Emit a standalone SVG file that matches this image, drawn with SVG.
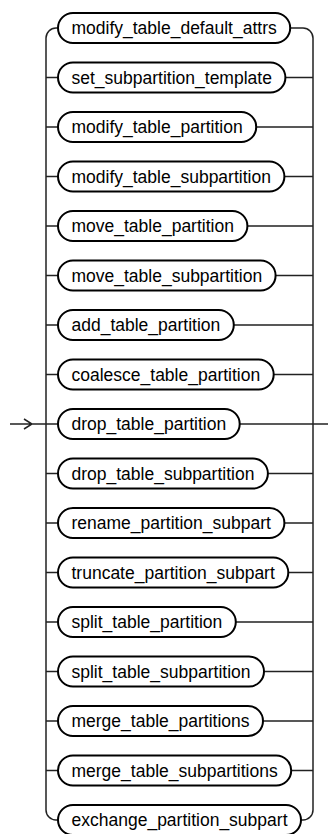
<svg xmlns="http://www.w3.org/2000/svg" width="328" height="834" viewBox="0 0 328 834">
<style>
.pill{fill:#fff;stroke:#000;stroke-width:2}
.lbl{font-family:"Liberation Sans",Arial,sans-serif;font-size:17.5px;fill:#000;text-anchor:middle}
.ln{fill:none;stroke:#222;stroke-width:1.5}
</style>
<rect width="328" height="834" fill="#fff"/>
<g id="connectors">
<path class="ln" d="M58,28 H56 A10,10 0 0 0 46,38 V810 A10,10 0 0 0 56,820 H58"/>
<path class="ln" d="M290.2,28 H303 A10,10 0 0 1 313,38 V810 A10,10 0 0 1 303,820 H301"/>
<path class="ln" d="M10,424 H58 M24,419 L32,424 L24,429"/>
<path class="ln" d="M239.7,424 H328"/>
<path class="ln" d="M46,77.5 H58 M46,127 H58 M46,176.5 H58 M46,226 H58 M46,275.5 H58 M46,325 H58 M46,374.5 H58 M46,473.5 H58 M46,523 H58 M46,572.5 H58 M46,622 H58 M46,671.5 H58 M46,721 H58 M46,770.5 H58"/>
<path class="ln" d="M285.4,77.5 H313 M256.2,127 H313 M284.4,176.5 H313 M247.4,226 H313 M275.6,275.5 H313 M233.8,325 H313 M273.7,374.5 H313 M267.9,473.5 H313 M284.4,523 H313 M288.3,572.5 H313 M235.8,622 H313 M264,671.5 H313 M263,721 H313 M291.2,770.5 H313"/>
</g>
<g id="n1"><rect class="pill" x="58" y="13" width="232.2" height="30" rx="15"/><text class="lbl" x="174.1" y="34">modify_table_default_attrs</text></g>
<g id="n2"><rect class="pill" x="58" y="62.5" width="227.4" height="30" rx="15"/><text class="lbl" x="171.7" y="83.5">set_subpartition_template</text></g>
<g id="n3"><rect class="pill" x="58" y="112" width="198.2" height="30" rx="15"/><text class="lbl" x="157.1" y="133">modify_table_partition</text></g>
<g id="n4"><rect class="pill" x="58" y="161.5" width="226.4" height="30" rx="15"/><text class="lbl" x="171.2" y="182.5">modify_table_subpartition</text></g>
<g id="n5"><rect class="pill" x="58" y="211" width="189.4" height="30" rx="15"/><text class="lbl" x="152.7" y="232">move_table_partition</text></g>
<g id="n6"><rect class="pill" x="58" y="260.5" width="217.6" height="30" rx="15"/><text class="lbl" x="166.8" y="281.5">move_table_subpartition</text></g>
<g id="n7"><rect class="pill" x="58" y="310" width="175.8" height="30" rx="15"/><text class="lbl" x="145.9" y="331">add_table_partition</text></g>
<g id="n8"><rect class="pill" x="58" y="359.5" width="215.7" height="30" rx="15"/><text class="lbl" x="165.85" y="380.5">coalesce_table_partition</text></g>
<g id="n9"><rect class="pill" x="58" y="409" width="181.7" height="30" rx="15"/><text class="lbl" x="148.85" y="430">drop_table_partition</text></g>
<g id="n10"><rect class="pill" x="58" y="458.5" width="209.9" height="30" rx="15"/><text class="lbl" x="162.95" y="479.5">drop_table_subpartition</text></g>
<g id="n11"><rect class="pill" x="58" y="508" width="226.4" height="30" rx="15"/><text class="lbl" x="171.2" y="529">rename_partition_subpart</text></g>
<g id="n12"><rect class="pill" x="58" y="557.5" width="230.3" height="30" rx="15"/><text class="lbl" x="173.15" y="578.5">truncate_partition_subpart</text></g>
<g id="n13"><rect class="pill" x="58" y="607" width="177.8" height="30" rx="15"/><text class="lbl" x="146.9" y="628">split_table_partition</text></g>
<g id="n14"><rect class="pill" x="58" y="656.5" width="206" height="30" rx="15"/><text class="lbl" x="161" y="677.5">split_table_subpartition</text></g>
<g id="n15"><rect class="pill" x="58" y="706" width="205" height="30" rx="15"/><text class="lbl" x="160.5" y="727">merge_table_partitions</text></g>
<g id="n16"><rect class="pill" x="58" y="755.5" width="233.2" height="30" rx="15"/><text class="lbl" x="174.6" y="776.5">merge_table_subpartitions</text></g>
<g id="n17"><rect class="pill" x="58" y="805" width="243" height="30" rx="15"/><text class="lbl" x="179.5" y="826">exchange_partition_subpart</text></g>
</svg>
